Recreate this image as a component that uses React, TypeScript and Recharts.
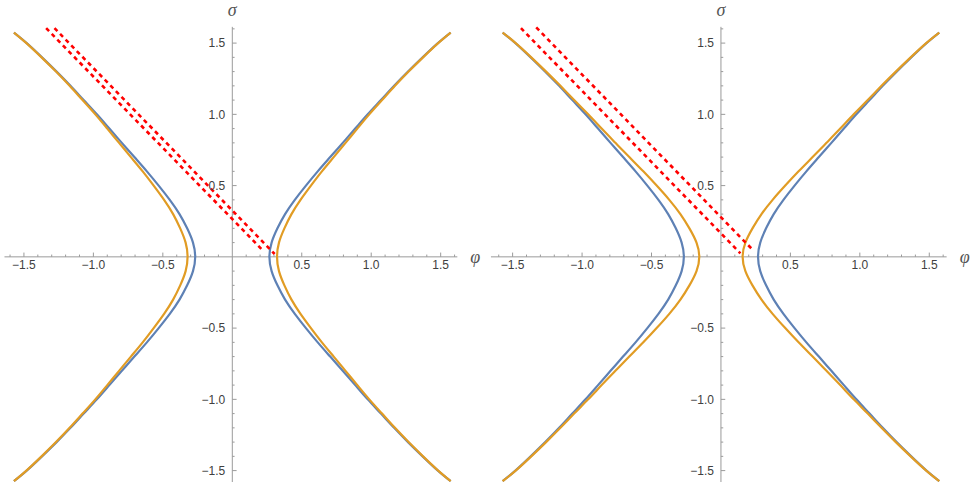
import React from 'react';
import { ScatterChart, Scatter, XAxis, YAxis, ReferenceLine } from 'recharts';

// sigma levels at which every branch is sampled (bottom to top)
const sigma = [
  -1.574, -1.5, -1.4, -1.3, -1.2, -1.1, -1.0, -0.9, -0.8, -0.7, -0.6, -0.5, -0.4, -0.3, -0.2, -0.1,
  0,
  0.1, 0.2, 0.3, 0.4, 0.5, 0.6, 0.7, 0.8, 0.9, 1.0, 1.1, 1.2, 1.3, 1.4, 1.5, 1.574,
];

// phi of each branch against the sigma levels above
const blueRight = [
  1.572, 1.48, 1.37, 1.265, 1.165, 1.07, 0.975, 0.885, 0.795, 0.705, 0.615, 0.53, 0.45, 0.38, 0.325, 0.283,
  0.267,
  0.283, 0.325, 0.38, 0.45, 0.53, 0.615, 0.705, 0.795, 0.885, 0.975, 1.07, 1.165, 1.265, 1.37, 1.48, 1.572,
];
const blueLeft = [
  -1.572, -1.48, -1.37, -1.265, -1.165, -1.07, -0.975, -0.885, -0.795, -0.705, -0.615, -0.53, -0.45, -0.38, -0.325, -0.283,
  -0.267,
  -0.283, -0.325, -0.38, -0.45, -0.53, -0.615, -0.705, -0.795, -0.885, -0.975, -1.07, -1.165, -1.265, -1.37, -1.48, -1.572,
];

// orange pair, first panel (wider than the blue one)
const orangeRightA = [
  1.572, 1.482, 1.373, 1.269, 1.171, 1.078, 0.986, 0.9, 0.815, 0.73, 0.645, 0.566, 0.491, 0.426, 0.375, 0.336,
  0.322,
  0.336, 0.375, 0.426, 0.491, 0.566, 0.645, 0.73, 0.815, 0.9, 0.986, 1.078, 1.171, 1.269, 1.373, 1.482, 1.572,
];
const orangeLeftA = [
  -1.572, -1.482, -1.373, -1.269, -1.171, -1.078, -0.986, -0.9, -0.815, -0.73, -0.645, -0.566, -0.491, -0.426, -0.375, -0.336,
  -0.322,
  -0.336, -0.375, -0.426, -0.491, -0.566, -0.645, -0.73, -0.815, -0.9, -0.986, -1.078, -1.171, -1.269, -1.373, -1.482, -1.572,
];

// orange pair, second panel (narrower than the blue one)
const orangeRightB = [
  1.572, 1.478, 1.366, 1.259, 1.156, 1.057, 0.956, 0.859, 0.76, 0.66, 0.559, 0.463, 0.372, 0.292, 0.227, 0.176,
  0.156,
  0.176, 0.227, 0.292, 0.372, 0.463, 0.559, 0.66, 0.76, 0.859, 0.956, 1.057, 1.156, 1.259, 1.366, 1.478, 1.572,
];
const orangeLeftB = [
  -1.572, -1.478, -1.366, -1.259, -1.156, -1.057, -0.956, -0.859, -0.76, -0.66, -0.559, -0.463, -0.372, -0.292, -0.227, -0.176,
  -0.156,
  -0.176, -0.227, -0.292, -0.372, -0.463, -0.559, -0.66, -0.76, -0.859, -0.956, -1.057, -1.156, -1.259, -1.366, -1.478, -1.572,
];

// dashed red segments, [phi, sigma] end points
const redA1 = [[-1.34, 1.605], [0.225, 0.04]];
const redA2 = [[-1.28, 1.605], [0.305, 0.02]];
const redB1 = [[-1.44, 1.605], [0.14, 0.025]];
const redB2 = [[-1.33, 1.61], [0.228, 0.05]];

const majorTicks = [-1.5, -1.0, -0.5, 0.5, 1.0, 1.5];
const majorLabels = ['\u22121.5', '\u22121.0', '\u22120.5', '0.5', '1.0', '1.5'];

const BLUE = '#5e81b5';
const ORANGE = '#e19c24';
const RED = '#ff0000';
const AXIS = '#9a9a9a';
const TEXT = '#404040';

const W = 486;
const H = 482;
const X_DOMAIN: [number, number] = [-1.66, 1.66];
const Y_DOMAIN: [number, number] = [-1.58, 1.62];

// minor ticks every 0.1, skipping the origin and the labelled ones
const minorTicks: number[] = [];
for (let i = -16; i <= 16; i++) {
  if (i !== 0 && i % 5 !== 0) minorTicks.push(i / 10);
}

const toPoints = (phi: number[]) => phi.map((x, i) => ({ x, y: sigma[i] }));
const pairPoints = (seg: number[][]) => seg.map(([x, y]) => ({ x, y }));

const NoDot = () => null;

interface PanelProps {
  left: number;
  right: number;
  axisFrom: number;
  axisTo: number;
  orangeL: number[];
  orangeR: number[];
  red1: number[][];
  red2: number[][];
}

const Panel: React.FC<PanelProps> = ({ left, right, axisFrom, axisTo, orangeL, orangeR, red1, red2 }) => {
  const curve = (data: number[], color: string, key: string) => (
    <Scatter
      key={key}
      data={toPoints(data)}
      fill={color}
      line={{ stroke: color, strokeWidth: 2.2 }}
      lineJointType="natural"
      shape={NoDot}
      isAnimationActive={false}
    />
  );
  const dashed = (seg: number[][], key: string) => (
    <Scatter
      key={key}
      data={pairPoints(seg)}
      fill={RED}
      line={{ stroke: RED, strokeWidth: 2.6, strokeDasharray: '4.2 3.8' }}
      shape={NoDot}
      isAnimationActive={false}
    />
  );

  return (
    <ScatterChart width={W} height={H} margin={{ top: 26, right, bottom: 0, left }}>
      <XAxis type="number" dataKey="x" domain={X_DOMAIN} hide allowDataOverflow />
      <YAxis type="number" dataKey="y" domain={Y_DOMAIN} hide allowDataOverflow />

      {/* axes crossing at the origin */}
      <ReferenceLine
        segment={[{ x: axisFrom, y: 0 }, { x: axisTo, y: 0 }]}
        stroke={AXIS}
        label={{ value: '\u03c6', position: 'right', offset: 13, fill: '#555', fontSize: 18, fontStyle: 'italic', fontFamily: 'Liberation Serif' }}
      />
      <ReferenceLine
        segment={[{ x: 0, y: -1.58 }, { x: 0, y: 1.614 }]}
        stroke={AXIS}
        label={{ value: '\u03c3', position: 'top', offset: 11, fill: '#555', fontSize: 18, fontStyle: 'italic', fontFamily: 'Liberation Serif' }}
      />

      {minorTicks.map((t) => (
        <ReferenceLine key={`mx${t}`} segment={[{ x: t, y: 0 }, { x: t, y: 0.016 }]} stroke={AXIS} />
      ))}
      {minorTicks.map((t) => (
        <ReferenceLine key={`my${t}`} segment={[{ x: 0, y: t }, { x: 0.0165, y: t }]} stroke={AXIS} />
      ))}
      {majorTicks.map((t, i) => (
        <ReferenceLine
          key={`Mx${t}`}
          segment={[{ x: t, y: 0.03 }, { x: t, y: 0 }]}
          stroke={AXIS}
          label={{ value: majorLabels[i], position: 'bottom', offset: 4, fill: TEXT, fontSize: 12 }}
        />
      ))}
      {majorTicks.map((t, i) => (
        <ReferenceLine
          key={`My${t}`}
          segment={[{ x: 0, y: t }, { x: 0.031, y: t }]}
          stroke={AXIS}
          label={{ value: majorLabels[i], position: 'left', offset: 7, fill: TEXT, fontSize: 12 }}
        />
      ))}

      {curve(blueLeft, BLUE, 'bl')}
      {curve(blueRight, BLUE, 'br')}
      {curve(orangeL, ORANGE, 'ol')}
      {curve(orangeR, ORANGE, 'or')}
      {dashed(red1, 'r1')}
      {dashed(red2, 'r2')}
    </ScatterChart>
  );
};

export default function App() {
  return (
    <div
      style={{
        position: 'absolute',
        left: 0,
        top: 0,
        width: 972,
        height: 482,
        background: '#fff',
        display: 'flex',
        fontFamily: '"Liberation Sans", Arial, sans-serif',
      }}
    >
      <Panel left={1.7} right={23.1} axisFrom={-1.64} axisTo={1.62} orangeL={orangeLeftA} orangeR={orangeRightA} red1={redA1} red2={redA2} />
      <Panel left={4.4} right={20.5} axisFrom={-1.656} axisTo={1.625} orangeL={orangeLeftB} orangeR={orangeRightB} red1={redB1} red2={redB2} />
    </div>
  );
}
